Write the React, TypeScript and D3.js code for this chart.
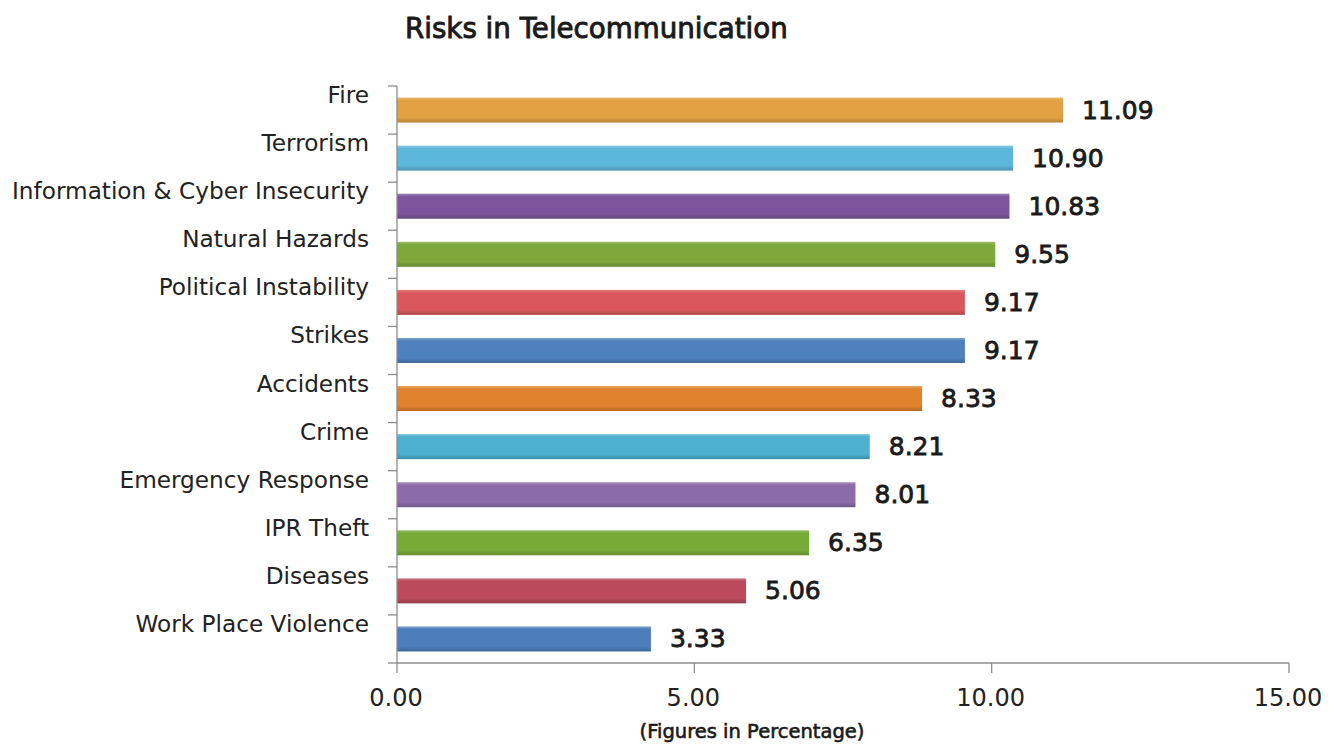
import React from "react";
import * as d3 from "d3";

const categories = [
  "Fire",
  "Terrorism",
  "Information & Cyber Insecurity",
  "Natural Hazards",
  "Political Instability",
  "Strikes",
  "Accidents",
  "Crime",
  "Emergency Response",
  "IPR Theft",
  "Diseases",
  "Work Place Violence",
];
// bar lengths as drawn in the picture
const barValues = [11.2, 10.36, 10.3, 10.06, 9.55, 9.55, 8.83, 7.95, 7.71, 6.93, 5.87, 4.27];
// printed value labels
const valueLabels = ["11.09", "10.90", "10.83", "9.55", "9.17", "9.17", "8.33", "8.21", "8.01", "6.35", "5.06", "3.33"];
const barColors = [
  "#E2A243", "#5DB6DB", "#7B569C", "#7EA83B", "#DA585B", "#4E80BE",
  "#E0832F", "#4CB0CE", "#8C6BAA", "#77AB38", "#BA4A5C", "#4B7EBA",
];
const xTicks = [0, 5, 10, 15];

const W = 1342;
const H = 745;
const left = 397;
const right = 1289;
const top = 86;
const bottom = 663;
const FONT = "'DejaVu Sans', Verdana, sans-serif";

export default function App() {
  const x = d3.scaleLinear().domain([0, 15]).range([left, right]);
  const y = d3
    .scaleBand<string>()
    .domain(categories)
    .range([top, bottom])
    .paddingInner(0.48)
    .paddingOuter(0.24);
  const step = y.step();
  const bw = y.bandwidth();
  const boundaries = d3.range(categories.length + 1).map((i) => top + i * step);

  return (
    <svg
      width={W}
      height={H}
      style={{ position: "absolute", left: 0, top: 0, background: "#fff" }}
    >
      <defs>
        {barColors.map((c, i) => {
          const base = d3.color(c)!;
          const light = d3.interpolateRgb(c, "#ffffff")(0.25);
          const dark = (d3.color(c) as d3.RGBColor).darker(0.6).formatHex();
          return (
            <linearGradient key={i} id={`g${i}`} x1="0" y1="0" x2="0" y2="1">
              <stop offset="0" stopColor={light} />
              <stop offset="0.12" stopColor={base.formatHex()} />
              <stop offset="0.8" stopColor={base.formatHex()} />
              <stop offset="1" stopColor={dark} />
            </linearGradient>
          );
        })}
      </defs>

      <text
        x={405}
        y={38}
        fontFamily={FONT}
        fontSize={27.7}
        fill="#1a1a1a"
        stroke="#1a1a1a"
        strokeWidth={0.9}
      >
        Risks in Telecommunication
      </text>

      {/* bars */}
      {categories.map((c, i) => (
        <rect
          key={c}
          x={x(0)}
          y={y(c)!}
          width={x(barValues[i]) - x(0)}
          height={bw}
          fill={`url(#g${i})`}
        />
      ))}

      {/* category labels */}
      {categories.map((c) => (
        <text
          key={c}
          x={369}
          y={y(c)! + bw / 2 - 7}
          textAnchor="end"
          fontFamily={FONT}
          fontSize={23.2}
          fill="#222"
        >
          {c}
        </text>
      ))}

      {/* value labels */}
      {categories.map((c, i) => (
        <text
          key={c}
          x={x(barValues[i]) + 19}
          y={y(c)! + bw / 2 + 8.5}
          fontFamily={FONT}
          fontSize={25}
          fill="#1a1a1a"
          stroke="#1a1a1a"
          strokeWidth={0.8}
        >
          {valueLabels[i]}
        </text>
      ))}

      {/* y axis */}
      <line x1={left} x2={left} y1={top} y2={bottom} stroke="#8c8c8c" strokeWidth={1.3} />
      {boundaries.map((b, i) => (
        <line key={i} x1={left - 9} x2={left} y1={b} y2={b} stroke="#8c8c8c" strokeWidth={1.3} />
      ))}

      {/* x axis */}
      <line x1={left} x2={right} y1={bottom} y2={bottom} stroke="#8c8c8c" strokeWidth={1.3} />
      {xTicks.map((t) => (
        <g key={t}>
          <line x1={x(t)} x2={x(t)} y1={bottom} y2={bottom + 10} stroke="#8c8c8c" strokeWidth={1.3} />
          <text
            x={x(t) - 1}
            y={706}
            textAnchor="middle"
            fontFamily={FONT}
            fontSize={24}
            fill="#222"
          >
            {t.toFixed(2)}
          </text>
        </g>
      ))}

      <text
        x={752}
        y={738}
        textAnchor="middle"
        fontFamily={FONT}
        fontSize={19.5}
        fill="#1a1a1a"
        stroke="#1a1a1a"
        strokeWidth={0.6}
      >
        (Figures in Percentage)
      </text>
    </svg>
  );
}
